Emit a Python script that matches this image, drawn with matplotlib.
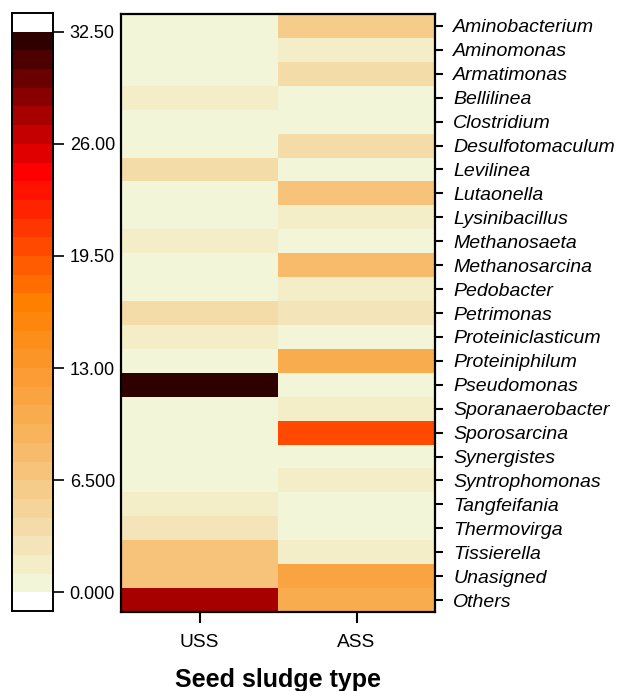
import numpy as np
import matplotlib
matplotlib.use("Agg")
import matplotlib.pyplot as plt
from matplotlib.colors import ListedColormap, BoundaryNorm, to_rgb

plt.rcParams['font.family'] = ['Liberation Sans', 'DejaVu Sans']

genera = ["Aminobacterium", "Aminomonas", "Armatimonas", "Bellilinea", "Clostridium",
          "Desulfotomaculum", "Levilinea", "Lutaonella", "Lysinibacillus", "Methanosaeta",
          "Methanosarcina", "Pedobacter", "Petrimonas", "Proteiniclasticum", "Proteiniphilum",
          "Pseudomonas", "Sporanaerobacter", "Sporosarcina", "Synergistes", "Syntrophomonas",
          "Tangfeifania", "Thermovirga", "Tissierella", "Unasigned", "Others"]
sludge_types = ["USS", "ASS"]
uss = [0.3, 0.3, 0.3, 1.6, 0.3, 0.3, 3.8, 0.3, 0.3, 1.6, 0.3, 0.3, 3.8, 1.6, 0.3,
       32.0, 0.3, 0.3, 0.3, 0.3, 1.6, 2.7, 7.0, 7.0, 27.6]
ass = [5.9, 1.6, 3.8, 0.3, 0.3, 3.8, 0.3, 7.0, 1.6, 0.3, 8.1, 1.6, 2.7, 0.3, 10.3,
       0.3, 1.6, 20.0, 0.3, 1.6, 0.3, 0.3, 1.6, 11.4, 10.3]
cbar_ticks = [0.0, 6.5, 13.0, 19.5, 26.0, 32.5]
cbar_ticklabels = ["0.000", "6.500", "13.00", "19.50", "26.00", "32.50"]
vmax = 32.5
nbins = 30

# build binned palette
anchors = [(0, '#F2F5D8'), (8, '#F8B35B'), (15, '#FF7F00'), (22, '#FF0000'), (29, '#2F0000')]
cols = []
for i in range(nbins):
    for (a, ca), (b, cb) in zip(anchors[:-1], anchors[1:]):
        if a <= i <= b:
            t = (i - a) / (b - a)
            ra, rb = np.array(to_rgb(ca)), np.array(to_rgb(cb))
            cols.append(tuple(ra + t * (rb - ra)))
            break
cmap = ListedColormap(cols)
bounds = np.linspace(0, vmax, nbins + 1)
norm = BoundaryNorm(bounds, nbins)

W, H = 619, 691
fig = plt.figure(figsize=(W / 100, H / 100), dpi=100)

# heatmap
ax = fig.add_axes([121 / W, 1 - 612 / H, 314 / W, 598 / H])
data = np.column_stack([uss, ass])
ax.pcolormesh(np.arange(3), np.arange(len(genera) + 1), data, cmap=cmap, norm=norm)
ax.set_xlim(0, 2)
ax.set_ylim(len(genera), 0)
ax.set_xticks(np.arange(2) + 0.5)
ax.set_xticklabels(sludge_types, fontsize=13.8)
ax.yaxis.tick_right()
ax.set_yticks(np.arange(len(genera)) + 0.5)
ax.set_yticklabels(genera, fontsize=14, style='italic')
ax.tick_params(axis='x', length=8, width=1.5, pad=8)
ax.tick_params(axis='y', length=6, width=1.5, pad=7)
for s in ax.spines.values():
    s.set_linewidth(1.6)
fig.text(278 / W, 1 - 687 / H, "Seed sludge type", fontsize=18, fontweight='bold',
         ha='center', va='baseline')

# colorbar
step = vmax / nbins
cax = fig.add_axes([12 / W, 1 - 611 / H, 41 / W, 598 / H])
cax.set_facecolor('white')
cax.pcolormesh([0, 1], bounds, ((bounds[:-1] + bounds[1:]) / 2).reshape(-1, 1),
               cmap=cmap, norm=norm)
cax.set_xlim(0, 1)
cax.set_ylim(-step, vmax + step)
cax.set_xticks([])
cax.yaxis.tick_right()
cax.set_yticks(cbar_ticks)
cax.set_yticklabels(cbar_ticklabels, fontsize=13)
cax.tick_params(axis='y', length=8, width=1.2, pad=4)
for s in cax.spines.values():
    s.set_linewidth(1.4)

fig.savefig("out.png", dpi=100)
